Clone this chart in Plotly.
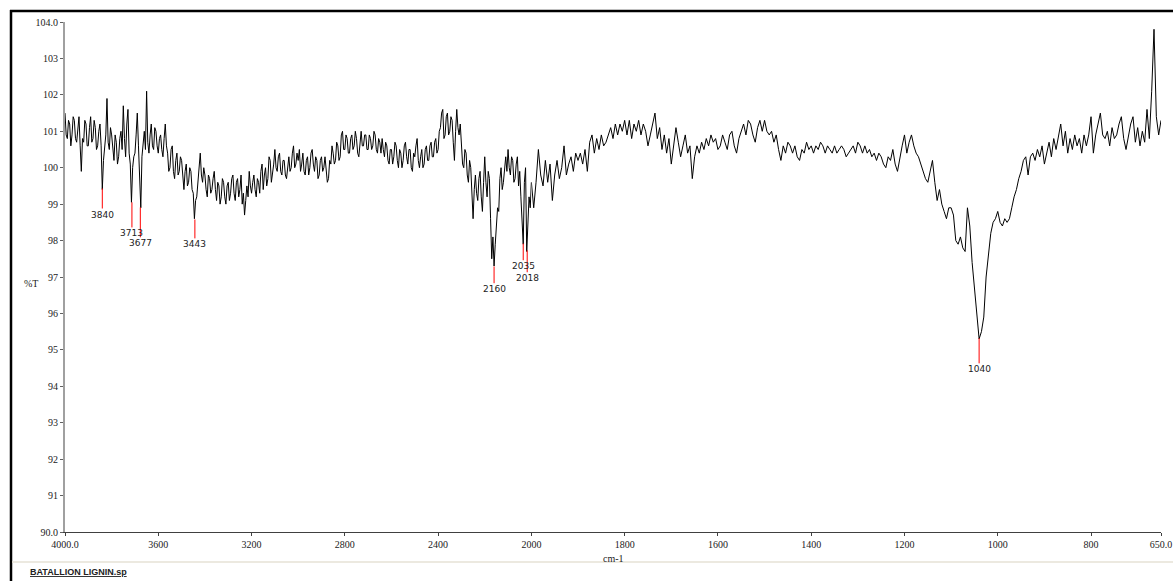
import numpy as np
import plotly.graph_objects as go

# wavenumber grid in cm-1 (scale is doubled below 2000 cm-1)
wn_high = np.arange(4000, 1999, -5)
wn_low = np.arange(1995, 649, -5)

# %T, 4000 -> 2000
t_high = [
    101.5, 100.9, 100.8, 101.3, 101.2, 100.6, 100.9, 101.4, 101.3, 100.8,
    100.7, 101.2, 101.4, 100.6, 99.9, 100.8, 100.7, 101.3, 101.2, 100.6,
    100.6, 101.1, 101.4, 100.7, 100.8, 101.3, 101.1, 100.5, 100.6, 101.0,
    101.2, 100.6, 99.4, 100.2, 100.5, 100.9, 101.9, 100.7, 100.5, 101.1,
    100.9, 100.4, 100.2, 100.9, 100.7, 100.1, 100.3, 100.8, 101.0, 100.5,
    101.7, 100.8, 100.3, 101.2, 101.6, 100.4, 100.1, 99.05, 100.0, 100.3,
    100.4, 100.9, 101.5, 100.6, 99.9, 98.9, 100.3, 100.8, 101.0, 100.5,
    102.1, 100.7, 100.4, 100.9, 101.2, 100.6, 100.5, 101.1, 101.0, 100.6,
    100.4, 100.8, 100.9, 100.5, 100.3, 100.8, 101.2, 100.6, 100.4, 99.9,
    100.0, 100.5, 100.6, 99.9, 99.7, 100.2, 100.4, 99.8, 99.9, 100.3,
    100.2, 99.8, 99.4, 99.9, 100.1, 99.5, 99.6, 100.0, 99.9, 99.4,
    99.3, 98.6, 99.1, 99.2, 99.7, 100.1, 100.4, 99.8, 99.6, 100.0,
    99.8, 99.4, 99.2, 99.8, 99.7, 99.3, 99.4, 99.7, 99.9, 99.4,
    99.1, 99.6, 99.5, 99.0, 99.2, 99.7, 99.6, 99.2, 99.0, 99.5,
    99.6, 99.1, 99.3, 99.7, 99.8, 99.3, 99.1, 99.6, 99.7, 99.2,
    99.4, 99.8, 99.0, 99.3, 98.7, 99.1, 99.5, 99.2, 99.9, 99.5,
    99.3, 99.6, 99.8, 99.4, 99.2, 99.7, 99.6, 99.3, 99.9, 100.1,
    99.4, 99.8, 100.0, 99.5, 99.7, 100.3, 100.2, 99.6, 99.8, 100.1,
    100.5, 100.0, 99.9, 100.3, 100.4, 99.9, 99.8, 100.2, 100.2, 99.8,
    99.7, 100.1, 100.3, 99.9, 100.0, 100.4, 100.6, 100.0, 100.1, 100.4,
    100.2, 100.5, 99.9, 100.1, 100.4, 99.9, 99.8, 100.2, 100.3, 99.8,
    100.0, 100.4, 100.5, 100.1, 99.9, 100.3, 100.2, 99.7, 99.8, 100.2,
    100.3, 99.9, 100.0, 100.3, 99.9, 99.6, 99.7, 100.2, 100.1, 100.6,
    100.4, 100.1, 100.2, 100.7, 100.6, 100.2, 100.3, 100.9, 101.0, 100.5,
    100.5, 100.9, 100.8, 100.4, 100.4, 100.8, 100.9, 100.5, 100.6, 101.0,
    100.8, 100.4, 100.3, 100.7, 101.0, 100.6, 100.6, 100.9, 100.9, 100.5,
    100.5, 100.9, 100.8, 100.5, 100.6, 101.0, 100.9, 100.5, 100.4, 100.8,
    100.7, 100.4, 100.8, 100.5, 100.3, 100.7, 100.6, 100.2, 100.1, 100.5,
    100.5, 100.1, 100.3, 100.7, 100.6, 100.2, 100.0, 100.5, 100.4, 100.0,
    100.2, 100.6, 100.7, 100.3, 100.1, 100.5, 100.5, 100.0, 99.9, 100.4,
    100.3, 100.6, 100.8, 100.2, 100.0, 100.3, 100.5, 100.0, 100.1, 100.5,
    100.6, 100.2, 100.2, 100.6, 100.7, 100.3, 100.3, 100.7, 100.8, 100.4,
    100.5, 101.0, 101.1, 101.5, 101.6, 100.8, 100.9, 101.4, 101.5, 100.9,
    101.0, 101.4, 101.3, 100.7, 100.2, 101.0, 101.6, 101.1, 100.9, 101.2,
    100.6, 100.1, 100.0, 100.5, 100.4, 99.8, 99.6, 100.2, 100.0, 99.2,
    98.6, 99.4, 99.8, 99.3, 99.1, 99.7, 99.9, 99.2, 98.8, 99.6,
    100.3, 99.6, 99.2, 99.9, 99.7, 98.6, 97.5, 98.1, 97.3, 97.9,
    98.4, 98.9, 98.8, 99.7, 100.0, 99.4, 99.6, 100.1, 100.3, 99.9,
    100.5, 100.0, 99.8, 100.3, 100.2, 99.6, 99.7, 100.1, 100.3, 99.5,
    99.9, 99.2, 98.6, 97.9, 99.6, 100.0, 97.7, 98.4, 99.2, 98.9,
    99.6,
]

# %T, 1995 -> 650
t_low = [
    98.9, 99.6, 100.5, 99.8, 99.5, 100.2, 99.6, 100.1, 99.1, 99.8,
    100.2, 99.7, 100.0, 100.6, 99.8, 100.1, 100.3, 99.9, 100.4, 100.2,
    100.4, 100.1, 100.5, 99.9, 100.7, 100.9, 100.4, 100.8, 100.5, 100.9,
    100.6, 100.7, 100.9, 101.1, 100.8, 101.2, 100.9, 101.2, 101.0, 101.3,
    100.9, 101.3, 100.8, 101.2, 101.0, 101.3, 100.9, 101.2, 101.0, 100.6,
    100.9, 101.2, 101.5, 100.8, 101.1, 100.5, 100.9, 100.4, 100.8, 100.1,
    100.6, 101.1, 100.7, 100.3, 100.6, 100.9, 100.4, 100.6, 99.7, 100.3,
    100.6, 100.4, 100.7, 100.5, 100.8, 100.6, 100.9, 100.7, 100.8, 100.5,
    100.6, 100.9, 100.7, 100.5, 100.9, 101.0, 100.6, 100.4, 100.8, 101.0,
    101.2, 100.9, 101.3, 101.2, 100.9, 100.7, 101.1, 101.3, 101.0, 101.3,
    101.0, 100.9, 101.0, 100.7, 100.9, 100.5, 100.2, 100.6, 100.4, 100.7,
    100.6, 100.4, 100.6, 100.3, 100.2, 100.5, 100.4, 100.7, 100.5, 100.6,
    100.4, 100.6, 100.5, 100.7, 100.6, 100.4, 100.6, 100.5, 100.4, 100.6,
    100.4, 100.5, 100.6, 100.5, 100.3, 100.4, 100.5, 100.6, 100.4, 100.7,
    100.6, 100.4, 100.6, 100.4, 100.5, 100.3, 100.4, 100.2, 100.4, 100.3,
    100.1, 100.0, 100.3, 100.2, 100.5, 100.1, 99.9, 100.3, 100.6, 100.9,
    100.4, 100.7, 100.9, 100.6, 100.4, 100.3, 100.1, 99.9, 99.7, 99.6,
    99.9, 100.2, 99.6, 99.1, 99.4, 99.0, 98.8, 98.6, 98.9, 98.9,
    98.7, 98.0, 97.9, 98.1, 97.8, 97.7, 98.9, 98.4, 97.4, 96.7,
    95.9, 95.3, 95.5, 95.9, 97.0, 97.6, 98.2, 98.5, 98.6, 98.8,
    98.5, 98.4, 98.6, 98.5, 98.6, 98.9, 99.2, 99.4, 99.7, 99.9,
    100.2, 100.3, 99.8, 100.3, 100.4, 100.2, 100.5, 100.3, 100.6, 100.1,
    100.4, 100.7, 100.3, 100.8, 100.5, 100.9, 101.2, 100.6, 101.0, 100.4,
    100.8, 100.5, 100.9, 100.6, 100.8, 100.4, 100.9, 100.6, 100.9, 101.4,
    100.4, 100.9, 101.2, 101.5, 100.9, 100.8, 101.0, 100.6, 101.1, 100.8,
    100.9, 101.2, 101.4, 100.8, 100.5, 100.9, 101.2, 101.4, 100.7, 101.1,
    100.6, 101.0, 100.7, 101.6, 100.8, 102.1, 103.8, 101.4, 100.9, 101.3,
]

# labelled peaks: position, tip of the red marker and its lower end (%T)
peak_wn = [3840, 3713, 3677, 3443, 2160, 2035, 2018, 1040]
peak_top = [99.43, 99.05, 98.91, 98.58, 97.29, 97.92, 97.73, 95.32]
peak_end = [98.88, 98.36, 98.09, 98.06, 96.83, 97.46, 97.13, 94.63]

ytick_vals = list(range(90, 105))
ytick_text = ["90.0"] + [str(v) for v in range(91, 104)] + ["104.0"]
x1_ticks = [4000, 3600, 3200, 2800, 2400]
x1_text = ["4000.0", "3600", "3200", "2800", "2400"]
x2_ticks = [2000, 1800, 1600, 1400, 1200, 1000, 800, 650]
x2_text = ["2000", "1800", "1600", "1400", "1200", "1000", "800", "650.0"]

W, H = 1173, 581
L, R, T, B = 65, 12, 22, 49
split = 2000 / 4700  # 4000-2000 at 1x, 2000-650 at 2x


def px(xp):
    return (xp - L) / (W - L - R)


def py(yp):
    return (H - B - yp) / (H - T - B)


fig = go.Figure()
fig.add_trace(go.Scatter(x=wn_high, y=t_high, mode="lines", xaxis="x", yaxis="y",
                         line=dict(color="black", width=1), hoverinfo="skip"))
fig.add_trace(go.Scatter(x=np.concatenate([[2000], wn_low]), y=[t_high[-1]] + t_low,
                         mode="lines", xaxis="x2", yaxis="y",
                         line=dict(color="black", width=1), hoverinfo="skip"))

annotations = []
for w, top, end in zip(peak_wn, peak_top, peak_end):
    ax = "x" if w > 2000 else "x2"
    fig.add_trace(go.Scatter(x=[w, w], y=[top, end], mode="lines", xaxis=ax, yaxis="y",
                             line=dict(color="#ff0000", width=1), hoverinfo="skip"))
    annotations.append(dict(x=w, y=end, xref=ax, yref="y", text=str(w), showarrow=False,
                            yanchor="top", xanchor="center", borderpad=0,
                            font=dict(family="DejaVu Sans", size=9, color="#222")))

serif = dict(family="Liberation Serif", size=10, color="#222")
annotations += [
    dict(x=px(31), y=py(283), xref="paper", yref="paper", text="%T", showarrow=False,
         xanchor="center", yanchor="middle", font=serif),
    dict(x=0.5, y=py(558), xref="paper", yref="paper", text="cm-1", showarrow=False,
         xanchor="center", yanchor="middle", font=serif),
    dict(x=px(28), y=py(572), xref="paper", yref="paper", xanchor="left",
         yanchor="middle", text="<b><u>BATALLION LIGNIN.sp</u></b>", showarrow=False,
         font=dict(family="Liberation Sans", size=9, color="#222")),
]

axis_common = dict(showgrid=False, zeroline=False, showline=True, linecolor="#404040",
                   linewidth=1, ticks="outside", ticklen=3, tickcolor="#404040",
                   tickfont=serif, anchor="y", tickmode="array", automargin=False)

fig.update_layout(
    width=W, height=H, autosize=False,
    margin=dict(l=L, r=R, t=T, b=B),
    paper_bgcolor="white", plot_bgcolor="white",
    showlegend=False,
    xaxis=dict(domain=[0, split], range=[4000, 2000], tickvals=x1_ticks,
               ticktext=x1_text, **axis_common),
    xaxis2=dict(domain=[split, 1], range=[2000, 650], tickvals=x2_ticks,
                ticktext=x2_text, **axis_common),
    yaxis=dict(range=[90, 104], tickmode="array", tickvals=ytick_vals, ticktext=ytick_text,
               showgrid=False, zeroline=False, showline=True, linecolor="#a0a0a0",
               linewidth=2, ticks="outside", ticklen=3, tickcolor="#606060",
               tickfont=serif, automargin=False),
    annotations=annotations,
    shapes=[
        dict(type="line", xref="paper", yref="paper", x0=px(11), x1=px(11),
             y0=py(10), y1=py(H), line=dict(color="black", width=2.5)),
        dict(type="line", xref="paper", yref="paper", x0=px(10), x1=px(W),
             y0=py(11), y1=py(11), line=dict(color="black", width=2.5)),
        dict(type="line", xref="paper", yref="paper", x0=px(12), x1=px(W),
             y0=py(562), y1=py(562), line=dict(color="#e6e2d6", width=1.5)),
    ],
)

# pin the graph to the window corner so the page never scrolls
pin = ("var d=document.getElementById('{plot_id}');"
       "d.style.position='fixed';d.style.left='0px';d.style.top='0px';"
       "document.body.style.margin='0px';"
       "document.body.style.overflow='hidden';"
       "document.documentElement.style.overflow='hidden';")

fig.write_html("out.html",
               config={"responsive": False, "displayModeBar": False},
               post_script=pin)
